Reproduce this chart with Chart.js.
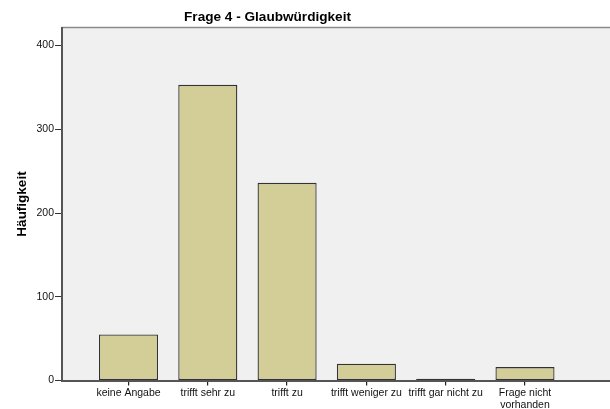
<!DOCTYPE html>
<html><head><meta charset="utf-8">
<script src="https://cdn.jsdelivr.net/npm/chart.js@4.4.0/dist/chart.umd.min.js"></script>
<style>html,body{margin:0;padding:0;background:#fff}#wrap{width:610px;height:409px}</style>
</head><body><div id="wrap"><canvas id="c" width="610" height="409"></canvas></div>
<script>
const chartTitle = 'Frage 4 - Glaubwürdigkeit';
const yAxisTitle = 'Häufigkeit';
const categories = ['keine Angabe', 'trifft sehr zu', 'trifft zu', 'trifft weniger zu', 'trifft gar nicht zu', ['Frage nicht', 'vorhanden']];
const counts = [55, 353, 236, 20, 2, 16];
const yTicks = [0, 100, 200, 300, 400];

const FONT = "'Liberation Sans', Arial, sans-serif";

const framePlugin = {
  id: 'frame',
  beforeDraw(chart) {
    const { ctx, chartArea: a } = chart;
    ctx.save();
    ctx.fillStyle = '#f0f0f0';
    ctx.fillRect(a.left, a.top, a.right - a.left, a.bottom - a.top);
    ctx.strokeStyle = '#8a8a8a';
    ctx.lineWidth = 1.5;
    ctx.beginPath();
    ctx.moveTo(a.left, a.top);
    ctx.lineTo(a.right, a.top);
    ctx.stroke();
    ctx.restore();
  },
  afterDraw(chart) {
    const { ctx } = chart;
    ctx.save();
    ctx.font = "bold 13.6px " + FONT;
    ctx.fillStyle = '#000';
    ctx.textAlign = 'center';
    ctx.textBaseline = 'alphabetic';
    ctx.fillText(chartTitle, 267.5, 20.5);
    ctx.restore();
  }
};

new Chart(document.getElementById('c'), {
  type: 'bar',
  data: {
    datasets: [{
      data: counts.map((v, i) => ({ x: i, y: v })),
      backgroundColor: '#d3ce97',
      borderColor: '#333333',
      borderWidth: 1.3,
      borderSkipped: false,
      categoryPercentage: 1,
      barPercentage: 0.745
    }]
  },
  options: {
    responsive: false,
    devicePixelRatio: 1,
    animation: false,
    layout: { padding: { top: 27.5, right: 0, left: 0, bottom: 0 } },
    plugins: { legend: { display: false }, tooltip: { enabled: false }, title: { display: false } },
    scales: {
      x: {
        type: 'linear',
        offset: false,
        min: -0.8386,
        max: 6.072,
        afterBuildTicks: s => { s.ticks = categories.map((c, i) => ({ value: i })); },
        afterFit: s => { s.height = 28.5; },
        ticks: {
          callback: (v, i) => categories[i],
          autoSkip: false, maxRotation: 0, minRotation: 0,
          padding: 2,
          color: '#111',
          font: { family: FONT, size: 10.5, lineHeight: 1.12 }
        },
        grid: { offset: false, drawOnChartArea: false, tickLength: 5, color: '#222', lineWidth: 1.2 },
        border: { display: true, color: '#555', width: 2 }
      },
      y: {
        min: 0,
        max: 421.5,
        afterBuildTicks: s => { s.ticks = yTicks.map(v => ({ value: v })); },
        afterFit: s => { s.width = 62; },
        ticks: {
          padding: 1,
          color: '#111',
          font: { family: FONT, size: 10.5 }
        },
        grid: { drawOnChartArea: false, tickLength: 7, color: '#333', lineWidth: 1 },
        border: { display: true, color: '#555', width: 2 },
        title: {
          display: true,
          text: yAxisTitle,
          color: '#000',
          font: { family: FONT, size: 13.5, weight: 'bold' },
          padding: { top: 14, bottom: 0 }
        }
      }
    }
  },
  plugins: [framePlugin]
});
</script>
</body></html>
